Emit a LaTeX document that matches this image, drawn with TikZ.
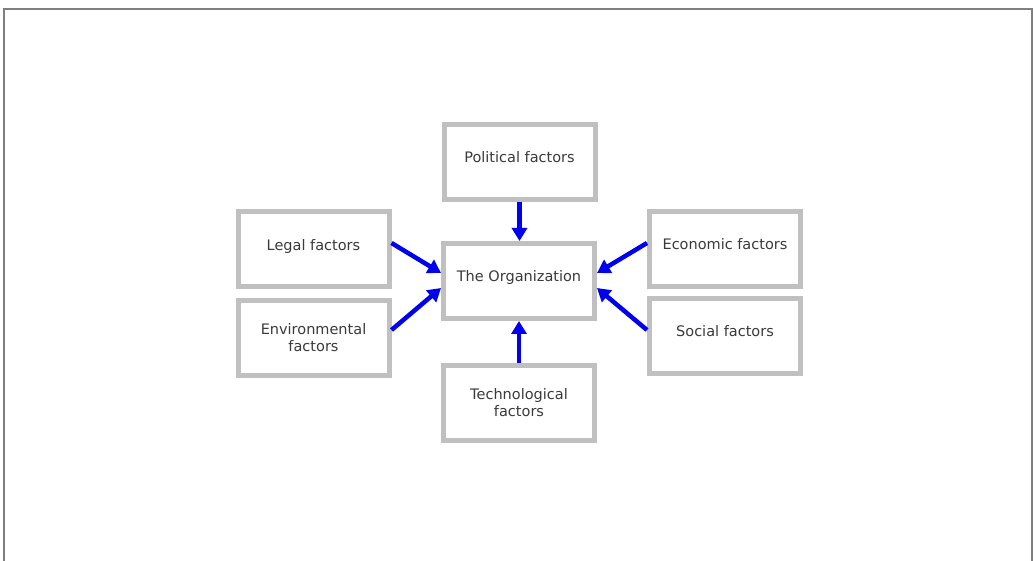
\documentclass[tikz,border=0pt]{standalone}
\usepackage{fontspec}
\setmainfont{DejaVu Sans}
\usetikzlibrary{arrows.meta}
\definecolor{boxgray}{HTML}{C0C0C0}
\definecolor{framegray}{HTML}{808080}
\definecolor{txt}{HTML}{3A3A3A}
\definecolor{arrblue}{HTML}{0000EE}
\begin{document}
\begin{tikzpicture}[x=1pt,y=-1pt,
  factor/.style={draw=boxgray, line width=5pt, fill=white, minimum width=151pt, minimum height=75pt,
    inner sep=2pt, align=center, text=txt, font=\fontsize{14.5}{17}\selectfont},
  oneline/.style={text depth=10pt},
  arr/.style={draw=arrblue, line width=4.5pt, -{Triangle[length=13pt,width=15pt]}},
  frame/.style={draw=framegray, line width=1.5pt}]
\useasboundingbox (0,0) rectangle (1034,561);
\draw[frame] (4,561) -- (4,9) -- (1032,9) -- (1032,561);
\node[factor,oneline] (pol) at (519.5,162) {Political factors};
\node[factor,oneline] (legal) at (313.5,249.5) {Legal factors};
\node[factor] (env) at (313.5,338) {Environmental\\factors};
\node[factor,oneline] (org) at (519,281) {The Organization};
\node[factor,oneline] (eco) at (725,249) {Economic factors};
\node[factor,oneline] (soc) at (725,336) {Social factors};
\node[factor] (tech) at (519,403) {Technological\\factors};
\draw[arr] (pol.south) -- (pol.south |- org.north);
\draw[arr] (tech.north) -- (org.south);
\draw[arr] ([yshift=6.5pt]legal.east) -- ([yshift=8pt]org.west);
\draw[arr] ([yshift=8pt]env.east) -- ([yshift=-7pt]org.west);
\draw[arr] ([yshift=6pt]eco.west) -- ([yshift=8pt]org.east);
\draw[arr] ([yshift=6pt]soc.west) -- ([yshift=-7pt]org.east);
\end{tikzpicture}
\end{document}
